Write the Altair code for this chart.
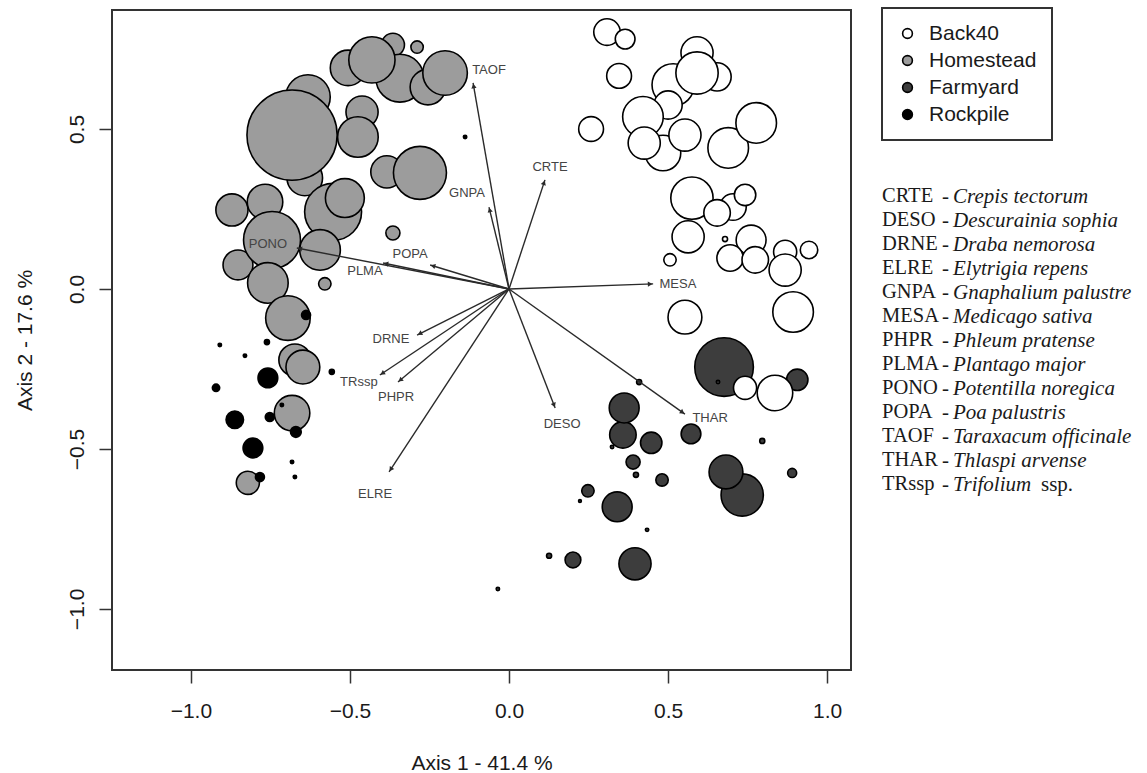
import altair as alt
import pandas as pd
import numpy as np

# ---------------- data ----------------
groups = ["Back40", "Homestead", "Farmyard", "Rockpile"]
group_fill = ["#ffffff", "#9c9c9c", "#3d3d3d", "#000000"]

# Homestead sites (axis1, axis2, cover)
home_x = [-0.632, -0.642, -0.462, -0.475, -0.682, -0.506, -0.365, -0.289, -0.343, -0.255,
          -0.201, -0.431, -0.384, -0.280, -0.871, -0.767, -0.553, -0.516, -0.594, -0.852,
          -0.745, -0.758, -0.365, -0.579, -0.695, -0.673, -0.648, -0.682, -0.821]
home_y = [0.600, 0.347, 0.553, 0.475, 0.481, 0.691, 0.763, 0.756, 0.659, 0.631,
          0.675, 0.716, 0.366, 0.363, 0.247, 0.272, 0.241, 0.284, 0.122, 0.075,
          0.153, 0.019, 0.175, 0.016, -0.091, -0.222, -0.244, -0.388, -0.606]
home_s = [0.079, 0.063, 0.057, 0.072, 0.160, 0.063, 0.041, 0.022, 0.085, 0.063,
          0.079, 0.082, 0.057, 0.094, 0.057, 0.063, 0.101, 0.069, 0.072, 0.053,
          0.101, 0.072, 0.025, 0.022, 0.079, 0.057, 0.060, 0.063, 0.041]

# Farmyard sites
farm_x = [0.676, 0.906, 0.358, 0.362, 0.447, 0.390, 0.572, 0.481, 0.890, 0.733,
          0.682, 0.248, 0.340, 0.126, 0.201, 0.396, 0.409, 0.324, 0.399, 0.796,
          0.223, 0.434, 0.657, -0.035]
farm_y = [-0.244, -0.284, -0.456, -0.372, -0.481, -0.541, -0.453, -0.597, -0.575, -0.644,
          -0.572, -0.631, -0.681, -0.834, -0.847, -0.859, -0.291, -0.494, -0.581, -0.475,
          -0.663, -0.753, -0.291, -0.938]
farm_s = [0.104, 0.038, 0.047, 0.053, 0.038, 0.025, 0.035, 0.022, 0.016, 0.075,
          0.060, 0.022, 0.053, 0.009, 0.028, 0.057, 0.009, 0.006, 0.009, 0.009,
          0.005, 0.006, 0.006, 0.006]

# Back40 sites
back_x = [0.308, 0.365, 0.346, 0.258, 0.591, 0.654, 0.516, 0.591, 0.500, 0.484,
          0.421, 0.425, 0.553, 0.689, 0.777, 0.575, 0.704, 0.742, 0.654, 0.563,
          0.506, 0.679, 0.761, 0.695, 0.774, 0.868, 0.868, 0.943, 0.893, 0.553,
          0.742, 0.836]
back_y = [0.803, 0.781, 0.666, 0.500, 0.738, 0.663, 0.638, 0.675, 0.575, 0.425,
          0.538, 0.456, 0.481, 0.441, 0.519, 0.284, 0.256, 0.294, 0.238, 0.163,
          0.091, 0.156, 0.153, 0.097, 0.091, 0.116, 0.059, 0.122, -0.072, -0.088,
          -0.309, -0.325]
back_s = [0.047, 0.035, 0.044, 0.044, 0.057, 0.050, 0.075, 0.075, 0.050, 0.063,
          0.072, 0.057, 0.057, 0.072, 0.072, 0.075, 0.047, 0.038, 0.047, 0.057,
          0.022, 0.009, 0.053, 0.047, 0.047, 0.041, 0.057, 0.031, 0.072, 0.060,
          0.041, 0.063]

# Rockpile sites
rock_x = [-0.638, -0.752, -0.670, -0.783, -0.758, -0.862, -0.805, -0.921, -0.761, -0.909,
          -0.830, -0.557, -0.682, -0.673, -0.714, -0.138]
rock_y = [-0.081, -0.400, -0.447, -0.588, -0.278, -0.409, -0.497, -0.309, -0.166, -0.175,
          -0.209, -0.259, -0.541, -0.588, -0.363, 0.475]
rock_s = [0.016, 0.016, 0.019, 0.016, 0.035, 0.031, 0.035, 0.013, 0.009, 0.006,
          0.006, 0.009, 0.006, 0.006, 0.006, 0.006]

# Species vectors
sp_code = ["CRTE", "DESO", "DRNE", "ELRE", "GNPA", "MESA", "PHPR", "PLMA", "PONO",
           "POPA", "TAOF", "THAR", "TRssp"]
sp_name = ["Crepis tectorum", "Descurainia sophia", "Draba nemorosa", "Elytrigia repens",
           "Gnaphalium palustre", "Medicago sativa", "Phleum pratense", "Plantago major",
           "Potentilla noregica", "Poa palustris", "Taraxacum officinale", "Thlaspi arvense",
           "Trifolium"]
vec_x = [0.113, 0.145, -0.289, -0.377, -0.063, 0.453, -0.349, -0.396, -0.667,
         -0.248, -0.113, 0.553, -0.406]
vec_y = [0.341, -0.372, -0.144, -0.572, 0.256, 0.016, -0.291, 0.081, 0.128,
         0.075, 0.644, -0.391, -0.269]
lab_x = [0.129, 0.167, -0.371, -0.421, -0.132, 0.531, -0.355, -0.453, -0.758,
         -0.311, -0.063, 0.632, -0.472]
lab_y = [0.381, -0.422, -0.156, -0.641, 0.300, 0.016, -0.338, 0.056, 0.141,
         0.109, 0.684, -0.403, -0.291]

x_ticks = [-1.0, -0.5, 0.0, 0.5, 1.0]
y_ticks = [-1.0, -0.5, 0.0, 0.5]

# ---------------- tables ----------------
parts = []
for g, xs_, ys_, ss_ in [("Homestead", home_x, home_y, home_s),
                         ("Farmyard", farm_x, farm_y, farm_s),
                         ("Back40", back_x, back_y, back_s),
                         ("Rockpile", rock_x, rock_y, rock_s)]:
    parts.append(pd.DataFrame({"ax1": xs_, "ax2": ys_, "cover": ss_, "site": g}))
sites = pd.concat(parts, ignore_index=True)
sites["draw"] = np.arange(len(sites))

vx = np.array(vec_x)
vy = np.array(vec_y)
length = np.hypot(vx, vy)
back_off = 3.0 / 318.0
vec = pd.DataFrame({
    "code": sp_code, "ox": 0.0, "oy": 0.0, "vx": vx, "vy": vy,
    "hx": vx - vx / length * back_off, "hy": vy - vy / length * back_off,
    "ang": (np.degrees(np.arctan2(vx, vy)) + 360.0) % 360.0,
    "lx": lab_x, "ly": lab_y,
})

# ---------------- layout ----------------
W, H = 739, 660
PAD = {"left": 112, "top": 10, "right": 296, "bottom": 103}
xscale = alt.Scale(domain=[-1.248, 1.075], nice=False, zero=False)
yscale = alt.Scale(domain=[-1.191, 0.872], nice=False, zero=False)

xaxis = alt.Axis(values=x_ticks, format=".1f", title="Axis 1 - 41.4 %",
                 labelPadding=17, titleY=99, titleBaseline="alphabetic")
yaxis = alt.Axis(values=y_ticks, format=".1f", title="Axis 2 - 17.6 %",
                 labelAngle=270, labelAlign="center", labelBaseline="alphabetic",
                 labelPadding=16, titleAngle=270, titleX=-87, titleY=330,
                 titleBaseline="middle", titleAlign="center")


def X(f):
    return alt.X(f, type="quantitative", scale=xscale, axis=xaxis)


def Y(f):
    return alt.Y(f, type="quantitative", scale=yscale, axis=yaxis)


bubbles = alt.Chart(sites).mark_circle(opacity=1, stroke="black", strokeWidth=1.6).encode(
    x=X("ax1"), y=Y("ax2"),
    fill=alt.Fill("site:N", scale=alt.Scale(domain=groups, range=group_fill),
                  legend=alt.Legend(title=None, orient="none", legendX=770, legendY=-2,
                                    padding=15, strokeColor="#333",
                                    labelFont="Liberation Sans", labelFontSize=21,
                                    labelColor="#1a1a1a", labelOffset=11, rowPadding=5,
                                    symbolType="circle", symbolSize=95,
                                    symbolStrokeColor="black", symbolStrokeWidth=1.6)),
    size=alt.Size("cover:Q", scale=alt.Scale(type="pow", exponent=2, domain=[0, 0.16],
                                             range=[0, 8139]), legend=None),
    order=alt.Order("draw:Q"),
)

rules = alt.Chart(vec).mark_rule(color="#2a2a2a", strokeWidth=1.4).encode(
    x=X("ox"), y=Y("oy"), x2="vx:Q", y2="vy:Q")

heads = alt.Chart(vec).mark_point(shape="triangle-up", filled=True, color="#2a2a2a",
                                  opacity=1, size=28).encode(
    x=X("hx"), y=Y("hy"), angle=alt.Angle("ang:Q", scale=None))

labels = alt.Chart(vec).mark_text(font="Liberation Sans", fontSize=13,
                                  color="#444444").encode(
    x=X("lx"), y=Y("ly"), text="code:N")

# species key to the right of the plot
LINE_H = 24
KEY_TOP = 176
key = pd.DataFrame({"codes": ["\n".join(sp_code)],
                    "dashes": ["\n".join("-" for _ in sp_code)],
                    "names": ["\n".join(sp_name)]})
key_style = dict(font="Liberation Serif", align="left", baseline="top",
                 lineBreak="\n", lineHeight=LINE_H, color="#1a1a1a")
key_codes = alt.Chart(key).mark_text(fontSize=20.5, **key_style).encode(
    x=alt.value(770), y=alt.value(KEY_TOP), text="codes:N")
key_dash = alt.Chart(key).mark_text(fontSize=21, **key_style).encode(
    x=alt.value(830), y=alt.value(KEY_TOP), text="dashes:N")
key_names = alt.Chart(key).mark_text(fontSize=21, fontStyle="italic", **key_style).encode(
    x=alt.value(841), y=alt.value(KEY_TOP), text="names:N")
ssp = alt.Chart(pd.DataFrame({"t": ["ssp."]})).mark_text(
    font="Liberation Serif", fontSize=21, align="left", baseline="top",
    color="#1a1a1a").encode(x=alt.value(929), y=alt.value(KEY_TOP + 12 * LINE_H),
                            text="t:N")

chart = alt.layer(bubbles, rules, heads, labels, key_codes, key_dash, key_names,
                  ssp).properties(
    width=W, height=H, padding=PAD, autosize=alt.AutoSizeParams(type="none"),
    background="white",
).configure_view(stroke="#333333", strokeWidth=2).configure_axis(
    grid=False, domain=False, tickColor="#333333", tickWidth=1.5, tickSize=13,
    labelFont="Liberation Sans", labelFontSize=21, labelColor="#1a1a1a",
    titleFont="Liberation Sans", titleFontSize=21, titleColor="#1a1a1a",
    titleFontWeight="normal",
).configure_legend(strokeWidth=2)

chart.save("out.html", embed_options={"renderer": "svg", "actions": False})
